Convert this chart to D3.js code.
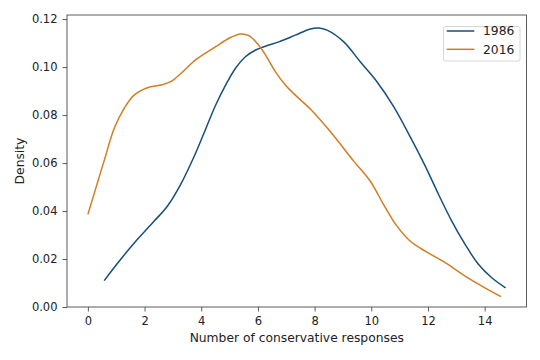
<!DOCTYPE html>
<html><head><meta charset="utf-8">
<script src="https://cdn.jsdelivr.net/npm/d3@7"></script>
<style>body{margin:0;background:#fff}svg{display:block}text{font-family:"DejaVu Sans",sans-serif;fill:#222}</style>
</head><body><svg id="c" width="540" height="360"></svg>
<script>
const seriesNames = ["1986", "2016"];
const x1986 = [0.575, 1.16, 1.75, 2.34, 2.81, 3.27, 3.74, 4.15, 4.51, 4.86, 5.21, 5.56, 5.92, 6.27, 6.74, 7.32, 7.85, 8.15, 8.44, 9.03, 9.61, 10.2, 10.79, 11.37, 11.9, 12.37, 12.84, 13.31, 13.78, 14.25, 14.74];
const d1986 = [0.0110, 0.0199, 0.0282, 0.0358, 0.0421, 0.0510, 0.0625, 0.0740, 0.0842, 0.0925, 0.0995, 0.1043, 0.1071, 0.1087, 0.1105, 0.1133, 0.1159, 0.1163, 0.1154, 0.1105, 0.1022, 0.0939, 0.0835, 0.0710, 0.0588, 0.0470, 0.0358, 0.0261, 0.0178, 0.0122, 0.0080];
const x2016 = [0.0, 0.57, 0.93, 1.28, 1.63, 2.10, 2.57, 2.92, 3.27, 3.80, 4.51, 4.98, 5.39, 5.68, 5.97, 6.27, 6.62, 6.97, 7.32, 7.85, 8.56, 9.38, 9.96, 10.43, 10.9, 11.37, 11.9, 12.61, 13.31, 14.01, 14.58];
const d2016 = [0.0386, 0.0608, 0.0745, 0.0828, 0.0883, 0.0914, 0.0925, 0.0939, 0.0972, 0.1030, 0.1085, 0.1120, 0.1138, 0.1131, 0.1099, 0.1050, 0.0980, 0.0925, 0.0883, 0.0825, 0.0730, 0.0608, 0.0525, 0.0428, 0.0338, 0.0275, 0.0233, 0.0185, 0.0129, 0.0080, 0.0043];
const xTicks = [0, 2, 4, 6, 8, 10, 12, 14];
const yTicks = [0.00, 0.02, 0.04, 0.06, 0.08, 0.10, 0.12];
const xLabel = "Number of conservative responses";
const yLabel = "Density";
const colors = ["#164f7c", "#d17d22"];

const svg = d3.select("#c");
const L = 67, R = 526.5, T = 15, B = 307;
const xmin = 0, xmax = 14.74, pad = (xmax - xmin) * 0.05;
const x = d3.scaleLinear().domain([xmin - pad, xmax + pad]).range([L, R]);
const y = d3.scaleLinear().domain([0, 0.1217]).range([B, T]);

const series = [
  {name: seriesNames[0], pts: x1986.map((v, i) => [v, d1986[i]]), color: colors[0]},
  {name: seriesNames[1], pts: x2016.map((v, i) => [v, d2016[i]]), color: colors[1]}
];

const line = d3.line().x(d => x(d[0])).y(d => y(d[1])).curve(d3.curveCatmullRom.alpha(0.5));
series.forEach(s => {
  svg.append("path").attr("d", line(s.pts)).attr("fill", "none")
    .attr("stroke", s.color).attr("stroke-width", 1.5);
});

const xa = svg.append("g").attr("transform", `translate(0,${B})`)
  .call(d3.axisBottom(x).tickValues(xTicks).tickFormat(d3.format("d")).tickSize(4.5).tickPadding(5));
const ya = svg.append("g").attr("transform", `translate(${L},0)`)
  .call(d3.axisLeft(y).tickValues(yTicks).tickFormat(d3.format(".2f")).tickSize(4.5).tickPadding(5));
[xa, ya].forEach(a => {
  a.select(".domain").remove();
  a.selectAll("line").attr("stroke", "#333").attr("stroke-width", 0.8);
  a.selectAll("text").attr("font-size", 11.5).attr("fill", "#222").style("font-family", "DejaVu Sans");
});

svg.append("rect").attr("x", L).attr("y", T).attr("width", R - L).attr("height", B - T)
  .attr("fill", "none").attr("stroke", "#333").attr("stroke-width", 0.8);

svg.append("text").attr("x", (L + R) / 2).attr("y", 342).attr("text-anchor", "middle")
  .attr("font-size", 12.3).text(xLabel);
svg.append("text").attr("transform", `translate(24,${(T + B) / 2}) rotate(-90)`)
  .attr("text-anchor", "middle").attr("font-size", 12.3).text(yLabel);

const lg = svg.append("g");
lg.append("rect").attr("x", 443.5).attr("y", 26.5).attr("width", 76.5).attr("height", 34.5)
  .attr("rx", 2).attr("fill", "#fff").attr("stroke", "#ccc").attr("stroke-width", 0.8);
series.forEach((s, i) => {
  const yy = 31 + i * 18.3;
  lg.append("line").attr("x1", 446.7).attr("x2", 474.3).attr("y1", yy).attr("y2", yy)
    .attr("stroke", s.color).attr("stroke-width", 1.5);
  lg.append("text").attr("x", 483).attr("y", yy + 4.3).attr("font-size", 12.3).text(s.name);
});
</script></body></html>
